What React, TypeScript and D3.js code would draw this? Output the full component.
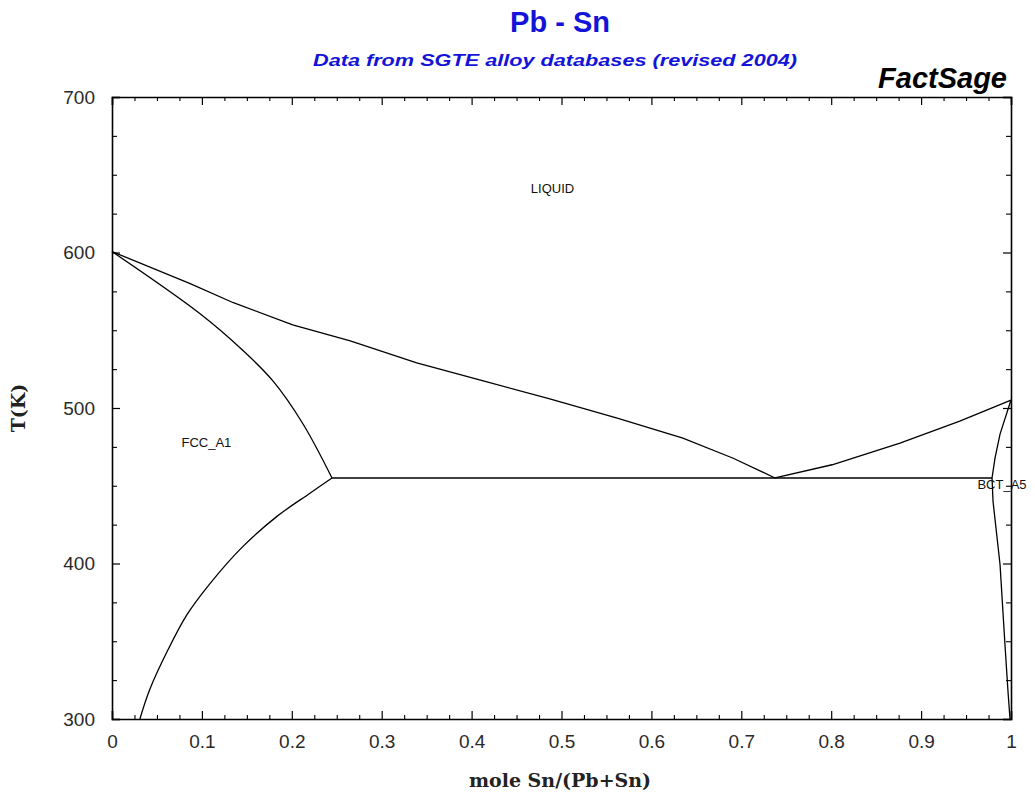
import { useEffect, useRef } from 'react';
import * as d3 from 'd3';

// phase boundaries, [x Sn, T(K)]
const liquidusPb: [number, number][] = [
  [0, 600.6], [0.087, 580], [0.135, 567.7], [0.201, 553.5], [0.265, 543.2],
  [0.339, 529.0], [0.413, 517.4], [0.487, 505.8], [0.562, 493.5],
  [0.635, 480.6], [0.691, 467.7], [0.7375, 455],
];
const liquidusSn: [number, number][] = [
  [0.7375, 455], [0.801, 463.5], [0.8765, 477.4], [0.943, 491.6], [1, 505.1],
];
const solidusFcc: [number, number][] = [
  [0, 600.6], [0.098, 560.6], [0.146, 536.8], [0.179, 517.4], [0.2125, 489.7], [0.2447, 455],
];
const solvusFcc: [number, number][] = [
  [0.2447, 455], [0.2202, 445.2], [0.1835, 430.3], [0.1457, 411.0], [0.109, 387.1],
  [0.0834, 367.1], [0.0612, 343.2], [0.0423, 319.4], [0.031, 300],
];
const solidusBct: [number, number][] = [
  [1, 505.1], [0.9878, 483.2], [0.9822, 467.7], [0.9789, 455],
];
const solvusBct: [number, number][] = [
  [0.9789, 455], [0.980, 440.0], [0.9878, 399.4], [0.9933, 347.7], [0.9967, 317.4], [0.9989, 300],
];
const eutectic: [number, number][] = [[0.2447, 455], [0.9789, 455]];

const xTicks = [0, 0.1, 0.2, 0.3, 0.4, 0.5, 0.6, 0.7, 0.8, 0.9, 1];
const yTicks = [300, 400, 500, 600, 700];
const phaseLabels = [
  { text: 'LIQUID', x: 0.49, t: 638 },
  { text: 'FCC_A1', x: 0.105, t: 475 },
  { text: 'BCT_A5', x: 0.99, t: 448 },
];

const render = (svgEl: SVGSVGElement) => {
  const m = { left: 112, top: 97, right: 1011, bottom: 719 };
  const svg = d3.select(svgEl);
  svg.selectAll('*').remove();

  const x = d3.scaleLinear().domain([0, 1]).range([m.left, m.right]);
  const y = d3.scaleLinear().domain([300, 700]).range([m.bottom, m.top]);

  const minorX = d3.range(0, 1.0001, 0.025).filter((v) => Math.abs(v * 10 - Math.round(v * 10)) > 1e-6);
  const minorY = d3.range(300, 701, 25).filter((v) => v % 100 !== 0);

  const font = 'Arial, "Liberation Sans", sans-serif';

  // Axes
  const bottom = svg.append('g').attr('transform', `translate(0,${m.bottom})`)
    .call(d3.axisBottom(x).tickValues(xTicks).tickSize(-8).tickPadding(16).tickFormat((d) => `${d}`));
  const top = svg.append('g').attr('transform', `translate(0,${m.top})`)
    .call(d3.axisTop(x).tickValues(xTicks).tickSize(-8).tickFormat(() => ''));
  const left = svg.append('g').attr('transform', `translate(${m.left},0)`)
    .call(d3.axisLeft(y).tickValues(yTicks).tickSize(-8).tickPadding(17).tickFormat((d) => `${d}`));
  const right = svg.append('g').attr('transform', `translate(${m.right},0)`)
    .call(d3.axisRight(y).tickValues(yTicks).tickSize(-8).tickFormat(() => ''));
  [bottom, top, left, right].forEach((g) => {
    g.select('.domain').attr('stroke', '#000').attr('stroke-width', 1.6);
    g.selectAll('.tick line').attr('stroke', '#000').attr('stroke-width', 1.2);
    g.selectAll('.tick text').attr('font-family', font).attr('font-size', 19).attr('fill', '#2a2a2a');
  });
  // minor ticks
  const minors = [
    svg.append('g').attr('transform', `translate(0,${m.bottom})`).call(d3.axisBottom(x).tickValues(minorX).tickSize(-4).tickFormat(() => '')),
    svg.append('g').attr('transform', `translate(0,${m.top})`).call(d3.axisTop(x).tickValues(minorX).tickSize(-4).tickFormat(() => '')),
    svg.append('g').attr('transform', `translate(${m.left},0)`).call(d3.axisLeft(y).tickValues(minorY).tickSize(-5).tickFormat(() => '')),
    svg.append('g').attr('transform', `translate(${m.right},0)`).call(d3.axisRight(y).tickValues(minorY).tickSize(-5).tickFormat(() => '')),
  ];
  minors.forEach((g) => {
    g.select('.domain').remove();
    g.selectAll('.tick line').attr('stroke', '#000').attr('stroke-width', 1.1);
  });

  // Curves
  const smooth = d3.line<[number, number]>().x((d) => x(d[0])).y((d) => y(d[1])).curve(d3.curveCatmullRom);
  const straight = d3.line<[number, number]>().x((d) => x(d[0])).y((d) => y(d[1]));
  [solidusFcc, solvusFcc].forEach((c) => {
    svg.append('path').attr('d', smooth(c)).attr('fill', 'none').attr('stroke', '#000').attr('stroke-width', 1.3);
  });
  [liquidusPb, liquidusSn, solidusBct, solvusBct, eutectic].forEach((c) => {
    svg.append('path').attr('d', straight(c)).attr('fill', 'none').attr('stroke', '#000').attr('stroke-width', 1.3);
  });

  // Phase labels
  svg.selectAll('text.phase').data(phaseLabels).enter().append('text')
    .attr('class', 'phase')
    .attr('x', (d) => x(d.x)).attr('y', (d) => y(d.t))
    .attr('text-anchor', 'middle')
    .attr('font-family', font).attr('font-size', 13).attr('fill', '#111')
    .text((d) => d.text);

  // Titles
  svg.append('text').attr('x', 560).attr('y', 32).attr('text-anchor', 'middle')
    .attr('font-family', font).attr('font-weight', 'bold').attr('font-size', 29).attr('fill', '#1414d8')
    .text('Pb - Sn');
  svg.append('text').attr('x', 555).attr('y', 66).attr('text-anchor', 'middle')
    .attr('font-family', font).attr('font-weight', 'bold').attr('font-style', 'italic').attr('font-size', 17).attr('fill', '#1414d8')
    .attr('textLength', 484).attr('lengthAdjust', 'spacingAndGlyphs')
    .text('Data from SGTE alloy databases (revised 2004)');
  svg.append('text').attr('x', 1007).attr('y', 88).attr('text-anchor', 'end')
    .attr('font-family', font).attr('font-weight', 'bold').attr('font-style', 'italic').attr('font-size', 29).attr('fill', '#000')
    .text('FactSage');

  // Axis titles
  const serif = '"DejaVu Serif", "Liberation Serif", serif';
  svg.append('text').attr('x', 560).attr('y', 787).attr('text-anchor', 'middle')
    .attr('font-family', serif).attr('font-weight', 'bold').attr('font-size', 19).attr('fill', '#222')
    .text('mole Sn/(Pb+Sn)');
  svg.append('text').attr('transform', 'translate(25,408) rotate(-90)').attr('text-anchor', 'middle')
    .attr('font-family', serif).attr('font-weight', 'bold').attr('font-size', 19).attr('fill', '#222')
    .text('T(K)');
};

export default function App() {
  const ref = useRef<SVGSVGElement>(null);
  useEffect(() => {
    if (ref.current) render(ref.current);
  }, []);
  return (
    <svg ref={ref} width={1035} height={796}
      style={{ position: 'absolute', left: 0, top: 0, background: '#fff' }} />
  );
}
